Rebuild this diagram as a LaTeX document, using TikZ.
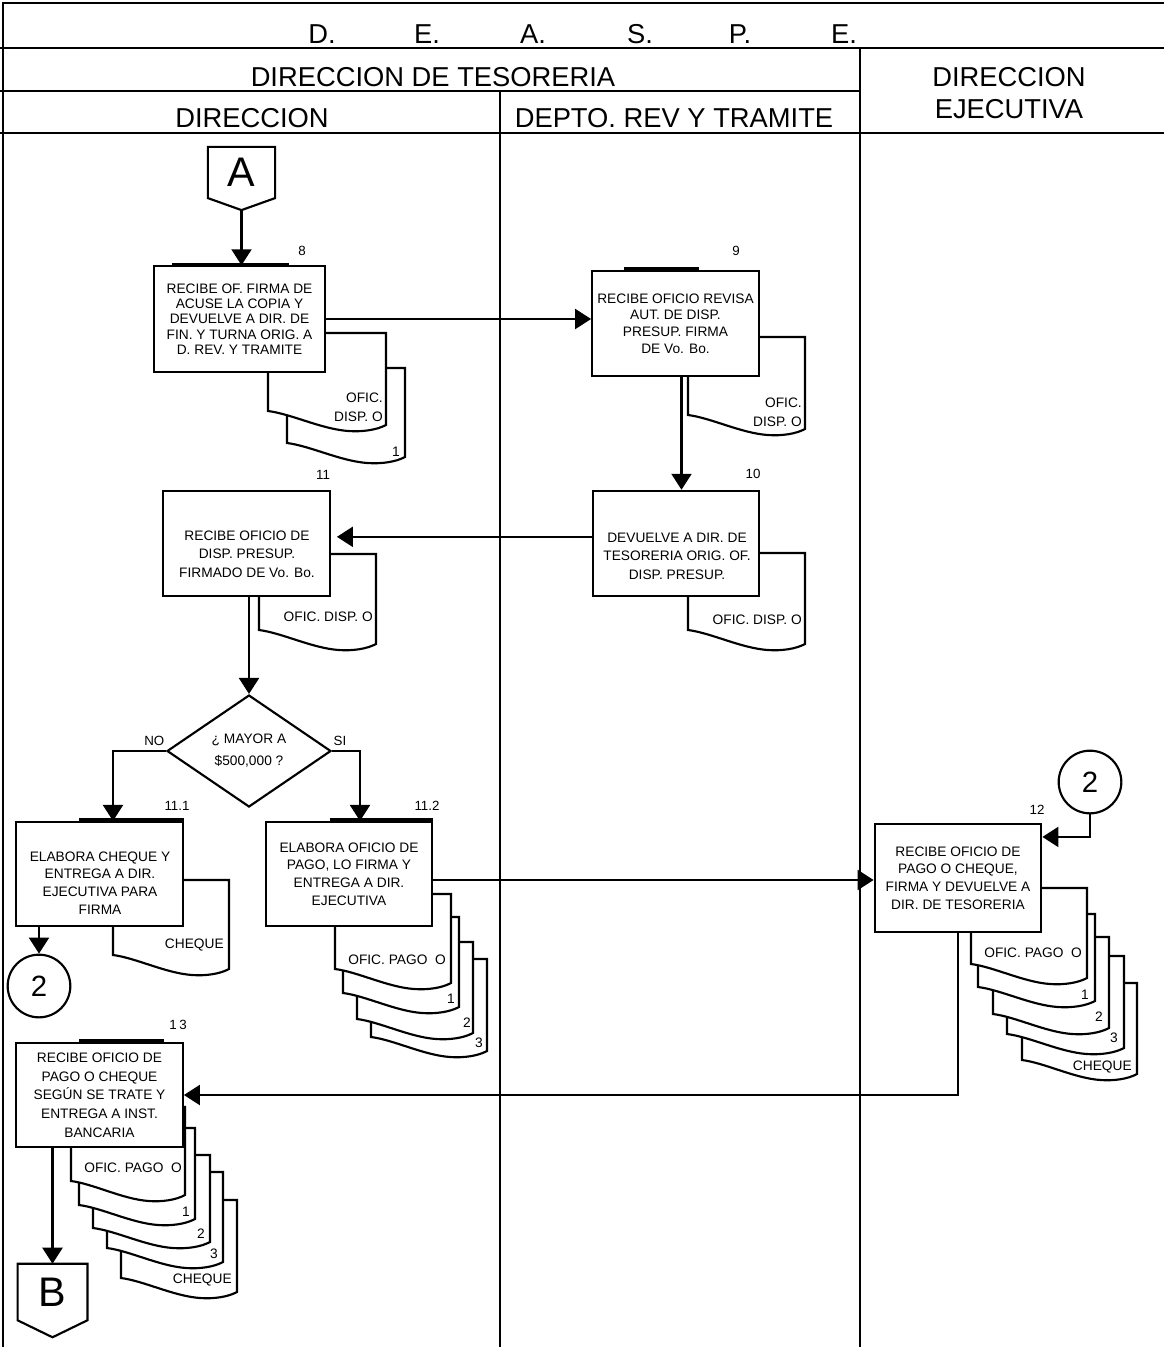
\documentclass[tikz,border=0pt]{standalone}
\usepackage{fontspec}
\setmainfont{Liberation Sans}
\usetikzlibrary{positioning, arrows.meta, calc, shapes.geometric}

% document symbol: left, top, width, height of left edge
\newcommand{\docu}[4]{%
  \filldraw[docline] (#1,#2) -- ({#1+#3},#2) -- ({#1+#3},{#2+#4+14})
    .. controls ({#1+0.92*#3},{#2+#4+19}) and ({#1+0.8*#3},{#2+#4+21}) .. ({#1+0.68*#3},{#2+#4+20})
    .. controls ({#1+0.45*#3},{#2+#4+18}) and ({#1+0.2*#3},{#2+#4+3}) .. (#1,{#2+#4}) -- cycle;}

\begin{document}
\begin{tikzpicture}[
  x=0.75pt, y=-0.75pt,
  connline/.style={line width=1.6pt},
  lane/.style={line width=1.6pt},
  docline/.style={line width=1.6pt, fill=white},
  bar/.style={line width=3pt},
  arr/.style={line width=1.6pt, -{Triangle[length=12pt,width=15pt]}},
  head/.style={font=\fontsize{20.5}{24}\selectfont, inner sep=0pt},
  proc/.style={draw, fill=white, line width=1.6pt, minimum width=125pt, minimum height=79pt,
    align=center, inner sep=2pt, font=\fontsize{10.3}{13.3}\selectfont},
  ptext/.style={align=center, inner sep=0pt, font=\fontsize{10.3}{13.3}\selectfont},
  decision/.style={draw, fill=white, line width=1.6pt, diamond, shape aspect=1.5, inner sep=0pt,
    minimum width=123pt, minimum height=84pt, align=center, font=\fontsize{10.3}{16.5}\selectfont},
  conn/.style={inner sep=0pt, minimum width=50pt, minimum height=38pt, font=\fontsize{31}{31}\selectfont},
  circ/.style={draw, circle, fill=white, line width=1.6pt, minimum size=47pt, inner sep=0pt,
    font=\fontsize{22}{22}\selectfont},
  doctxt/.style={inner sep=0pt, anchor=east, align=right, font=\fontsize{10.3}{14.5}\selectfont},
  num/.style={inner sep=0pt, font=\fontsize{10}{10}\selectfont},
  lbl/.style={inner sep=0pt, font=\fontsize{10}{10}\selectfont}
]
\useasboundingbox (0,0) rectangle (1164,1347);

% lanes
\draw[lane] (3,1347) -- (3,3) -- (1164,3);
\draw[lane] (0,48) -- (1164,48);
\draw[lane] (0,91) -- (860,91);
\draw[lane] (0,133) -- (1164,133);
\draw[lane] (860,48) -- (860,1347);
\draw[lane] (500,91) -- (500,1347);

\foreach \ltr/\xx [count=\i] in {D./322, E./427, A./533, S./640, P./740, E./844}
  \node[head] (dea\i) at (\xx,34) {\ltr};
\node[head] (tes) at (433,77) {DIRECCION DE TESORERIA};
\node[head] (dir) at (252,118) {DIRECCION};
\node[head] (dep) at (674,118) {DEPTO. REV Y TRAMITE};
\node[head, align=center] (eje) at (1009,93) {DIRECCION\\EJECUTIVA};

% documents
\docu{287}{368}{118}{75}
\docu{268}{333}{118}{78}
\docu{688}{337}{117}{78}
\docu{688}{553}{117}{77}
\docu{259}{554}{117}{76}
\docu{113}{880}{116}{75}
\docu{371}{959}{116}{78}
\docu{357}{942}{116}{77}
\docu{343}{917}{116}{76}
\docu{335}{894}{116}{75}
\docu{1022}{983}{115}{77}
\docu{1007}{956}{117}{78}
\docu{993}{937}{116}{77}
\docu{978}{914}{117}{73}
\docu{971}{888}{116}{76}
\docu{121}{1200}{116}{78}
\docu{107}{1172}{116}{76}
\docu{93}{1155}{117}{73}
\docu{79}{1128}{116}{77}
\docu{71}{1107}{114}{74}

\node[doctxt] (t8a) at (383,407) {OFIC.\\DISP. O};
\node[doctxt] (t8b) at (400,452) {1};
\node[doctxt] (t9) at (802,412) {OFIC.\\DISP. O};
\node[doctxt] (t10) at (802,620) {OFIC. DISP. O};
\node[doctxt] (t11) at (373,617) {OFIC. DISP. O};
\node[doctxt] (t111) at (224,945) {CHEQUE};
\node[doctxt] (t112a) at (446,960) {OFIC. PAGO \ O};
\node[doctxt] (t112b) at (455,999) {1};
\node[doctxt] (t112c) at (471,1023) {2};
\node[doctxt] (t112d) at (483,1043) {3};
\node[doctxt] (t12a) at (1082,953) {OFIC. PAGO \ O};
\node[doctxt] (t12b) at (1089,995) {1};
\node[doctxt] (t12c) at (1103,1017) {2};
\node[doctxt] (t12d) at (1118,1038) {3};
\node[doctxt] (t12e) at (1132,1067) {CHEQUE};
\node[doctxt] (t13a) at (182,1168) {OFIC. PAGO \ O};
\node[doctxt] (t13b) at (190,1212) {1};
\node[doctxt] (t13c) at (205,1234) {2};
\node[doctxt] (t13d) at (218,1254) {3};
\node[doctxt] (t13e) at (232,1280) {CHEQUE};

% connectors A and B
\node[conn] (conA) at (241.5,172.5) {A};
\draw[connline] (conA.north west) -- (conA.north east) -- (conA.south east)
  -- ($(conA.south)+(0,12)$) coordinate (conAtip) -- (conA.south west) -- cycle;
\node[conn, minimum width=52pt, minimum height=42pt] (conB) at (52.5,1292) {B};
\draw[connline] (conB.north west) -- (conB.north east) -- (conB.south east)
  -- ($(conB.south)+(0,17)$) coordinate (conBtip) -- (conB.south west) -- cycle;

% steps
\node[proc, minimum width=128pt, font=\fontsize{10.3}{11.5}\selectfont] (box8) at (239.5,319)
  {RECIBE OF. FIRMA DE\\ACUSE LA COPIA Y\\DEVUELVE A DIR. DE\\FIN. Y TURNA ORIG. A\\D. REV. Y TRAMITE};
\node[proc, font=\fontsize{10.3}{12.5}\selectfont] (box9) at (675.5,323.5)
  {RECIBE OFICIO REVISA\\AUT. DE DISP.\\PRESUP. FIRMA\\DE Vo. Bo.};
\node[proc] (box10) at (676,543.5) {};
\node[ptext, font=\fontsize{10.3}{14}\selectfont] (box10txt) at (677,556)
  {DEVUELVE A DIR. DE\\TESORERIA ORIG. OF.\\DISP. PRESUP.};
\node[proc] (box11) at (246.5,543.5) {};
\node[ptext, font=\fontsize{10.3}{14}\selectfont] (box11txt) at (247,554)
  {RECIBE OFICIO DE\\DISP. PRESUP.\\FIRMADO DE Vo. Bo.};
\node[decision] (dec) at (249,751) {¿ MAYOR A\\\$500,000 ?};
\node[proc, minimum height=78pt] (box111) at (99.5,874) {};
\node[ptext] (box111txt) at (100,883)
  {ELABORA CHEQUE Y\\ENTREGA A DIR.\\EJECUTIVA PARA\\FIRMA};
\node[proc, minimum height=78pt] (box112) at (349,874)
  {ELABORA OFICIO DE\\PAGO, LO FIRMA Y\\ENTREGA A DIR.\\EJECUTIVA};
\node[proc, minimum height=81pt] (box12) at (958,878)
  {RECIBE OFICIO DE\\PAGO O CHEQUE,\\FIRMA Y DEVUELVE A\\DIR. DE TESORERIA};
\node[proc, minimum height=78pt, font=\fontsize{10.3}{14}\selectfont] (box13) at (99.5,1095)
  {RECIBE OFICIO DE\\PAGO O CHEQUE\\SEGÚN SE TRATE Y\\ENTREGA A INST.\\BANCARIA};
\node[circ] (c2l) at (39,986) {2};
\node[circ] (c2r) at (1090,782) {2};

% heavy top edges
\draw[bar] ($(box8.north west)+(19,-0.6)$) -- +(117,0);
\draw[bar] ($(box9.north west)+(33,-0.6)$) -- +(75,0);
\draw[bar] ($(box111.north west)+(64,-0.6)$) -- ($(box111.north east)+(0,-0.6)$);
\draw[bar] ($(box112.north west)+(65,-0.6)$) -- ($(box112.north east)+(0,-0.6)$);
\draw[bar] ($(box13.north west)+(64,-0.6)$) -- +(85,0);

% numbers
\node[num] (n8) at (302,251) {8};
\node[num] (n9) at (736,251) {9};
\node[num] (n10) at (753,474) {10};
\node[num] (n11) at (323,475) {11};
\node[num] (n111) at (177,806) {11.1};
\node[num] (n112) at (427,806) {11.2};
\node[num] (n12) at (1037,810) {12};
\node[num] (n13) at (178,1025) {1\hspace{2pt}3};
\node[lbl, above left=4pt and 1pt of dec.west] (no) {NO};
\node[lbl, above right=4pt and 1pt of dec.east] (si) {SI};

% flow
\draw[arr] (conAtip) -- (conAtip |- box8.north);
\draw[arr] (box8.east) -- (box8.east -| box9.west);
\draw[arr] ([xshift=4.5pt]box9.south) -- ([xshift=4.5pt]box9.south |- box10.north);
\draw[arr, shorten >=4.5pt] ([yshift=5pt]box10.west) -- ([yshift=5pt]box10.west -| box11.east);
\draw[arr] (box11.south -| dec.north) -- (dec.north);
\draw[arr] (dec.west) -| ($(box111.north)+(13.5,0)$);
\draw[arr] (dec.east) -| ($(box112.north)+(11,0)$);
\draw[arr] (box111.south -| c2l.north) -- (c2l.north);
\draw[arr] ([yshift=-4.5pt]box112.east) -- ([yshift=-4.5pt]box112.east -| box12.west);
\draw[arr] (c2r.south) |- ([yshift=-10.5pt]box12.north east);
\draw[arr] (box12.south) |- (box13.east);
\draw[arr] (box13.south -| conB.north) -- (conB.north);
\end{tikzpicture}
\end{document}
